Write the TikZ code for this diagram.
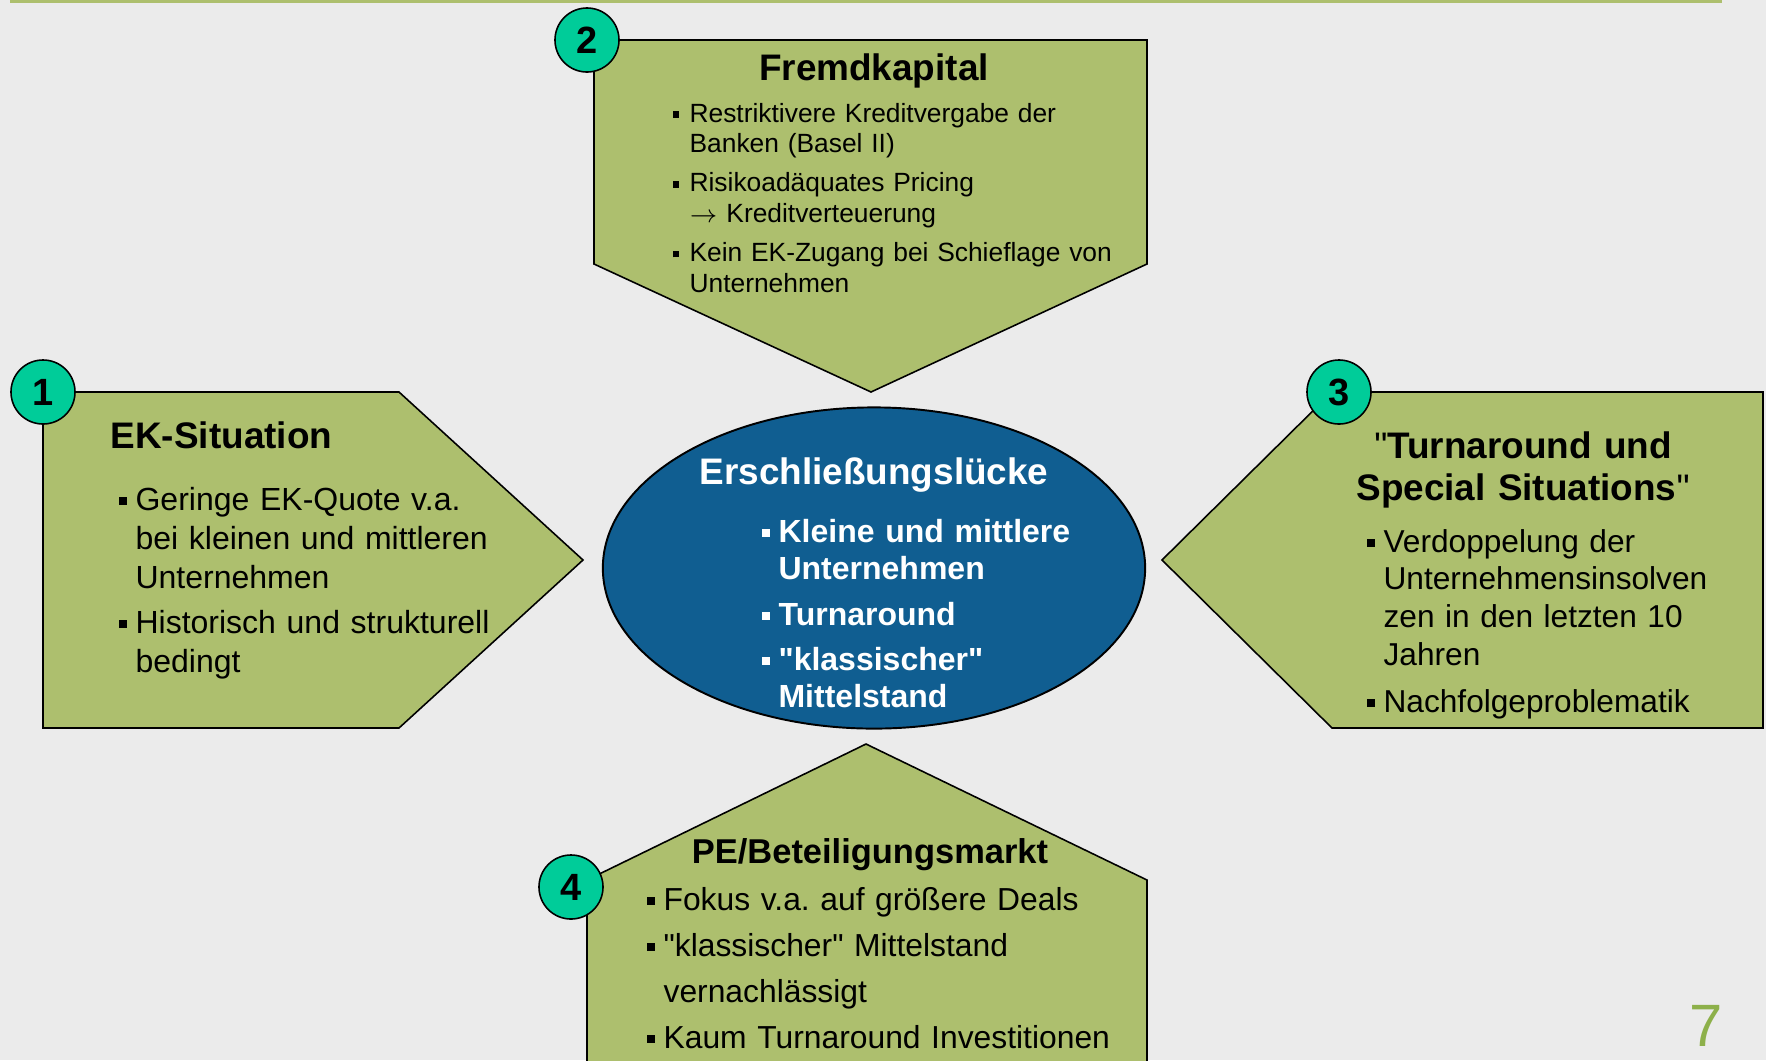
\documentclass[tikz,border=0pt]{standalone}
\usepackage{fontspec}
\setmainfont{Liberation Sans}
\newfontfamily\brut{Liberation Sans} % sans ligatures TeX, pour le guillemet droit
\usetikzlibrary{shapes.geometric}
\frenchspacing

\definecolor{fondgris}{HTML}{EBEBEB}
\definecolor{vertbloc}{HTML}{ADBF6E}
\definecolor{turquoise}{HTML}{00CC99}
\definecolor{bleufonce}{HTML}{105E91}
\definecolor{vertnum}{HTML}{8DB04A}

% puces carrées avec retrait suspendu
\newlength{\retrait}
\setlength{\retrait}{4.8pt}
\newcommand{\carre}{\rule[0.17em]{0.25em}{0.25em}}
\newcommand{\puce}{\hangindent=\retrait\hangafter=1\noindent\makebox[\retrait][l]{\carre}}
\newcommand{\gd}{{\brut"}} % guillemet droit

\begin{document}
\begin{tikzpicture}[x=0.01cm, y=-0.01cm,
    bloc/.style={draw=black, line width=0.45pt, fill=vertbloc},
    numero/.style={draw=black, line width=0.45pt, fill=turquoise, circle, minimum size=0.64cm, inner sep=0pt, font=\fontsize{10.8}{12}\selectfont\bfseries},
    titre/.style={inner sep=0pt, anchor=base, font=\fontsize{10.5}{12}\selectfont\bfseries},
    liste/.style={inner sep=0pt, anchor=base west, align=left, text width=#1}]

        % Fond et cadre
        \useasboundingbox (0,0) rectangle (1766,1060);
        \clip (0,0) rectangle (1766,1060);
        \fill[fondgris] (0,0) rectangle (1766,1060);
        \fill[vertbloc] (10,0) rectangle (1722,2.5);

        % Blocs (flèches vers le centre)
        \draw[bloc] (43,392) -- (399,392) -- (583,560) -- (399,728) -- (43,728) -- cycle;
        \draw[bloc] (594,40) -- (1147,40) -- (1147,264) -- (871,392) -- (594,264) -- cycle;
        \draw[bloc] (1332,392) -- (1763,392) -- (1763,728) -- (1332,728) -- (1162,560) -- cycle;
        \draw[bloc] (587,1080) -- (587,880) -- (866,744) -- (1147,880) -- (1147,1080) -- cycle;

        % Ellipse centrale
        \node[draw=black, line width=0.55pt, fill=bleufonce, ellipse, minimum width=5.42cm, minimum height=3.21cm] (luecke) at (874,568) {};
        \node[titre, text=white] (tl) at (874,484) {Erschließungslücke};
        \node[liste=3.6cm, text=white, font=\fontsize{9.1}{10.8}\selectfont\bfseries, execute at begin node={\setlength{\parskip}{2pt}}] (ll) at (761,542)
            {\puce Kleine und mittlere\newline Unternehmen\par\puce Turnaround\par\puce \gd klassischer\gd\newline Mittelstand\par};

        % Bloc 1
        \node[titre, anchor=base west] (t1) at (110,448) {EK-Situation};
        \node[liste=3.8cm, font=\fontsize{9.1}{11.1}\selectfont, execute at begin node={\setlength{\parskip}{1.7pt}}] (l1) at (118,510)
            {\puce Geringe EK-Quote v.a.\newline bei kleinen und mittleren\newline Unternehmen\par\puce Historisch und strukturell\newline bedingt\par};

        % Bloc 2
        \node[titre] (t2) at (874,80) {Fremdkapital};
        \node[liste=4.8cm, font=\fontsize{7.5}{8.8}\selectfont, execute at begin node={\setlength{\parskip}{2.3pt}}] (l2) at (672,122)
            {\puce Restriktivere Kreditvergabe der\newline Banken (Basel II)\par\puce Risikoadäquates Pricing\newline $\rightarrow$ Kreditverteuerung\par\puce Kein EK-Zugang bei Schieflage von\newline Unternehmen\par};

        % Bloc 3
        \node[titre, text width=4.2cm, align=center, font=\fontsize{10.5}{12}\selectfont\bfseries] (t3) at (1523,458)
            {{\mdseries\gd}Turnaround und\\Special Situations{\mdseries\gd}};
        \node[liste=3.8cm, font=\fontsize{9}{10.8}\selectfont, execute at begin node={\setlength{\parskip}{2.3pt}}] (l3) at (1366,552)
            {\puce Verdoppelung der\newline Unternehmensinsolven\newline zen in den letzten 10\newline Jahren\par\puce Nachfolgeproblematik\par};

        % Bloc 4
        \node[titre, font=\fontsize{9.8}{12}\selectfont\bfseries] (t4) at (870,863) {PE/Beteiligungsmarkt};
        \node[liste=4.9cm, font=\fontsize{9.05}{13.1}\selectfont] (l4) at (646,910)
            {\puce Fokus v.a. auf größere Deals\par\puce \gd klassischer\gd{} Mittelstand\newline vernachlässigt\par\puce Kaum Turnaround Investitionen\par};

        % Numéros
        \node[numero] (n1) at (43,392) {1};
        \node[numero] (n2) at (587,40) {2};
        \node[numero] (n3) at (1339,392) {3};
        \node[numero] (n4) at (571,887) {4};

        % Numéro de page
        \node[anchor=base west, inner sep=0pt, text=vertnum, font=\fontsize{17}{20}\selectfont] (page) at (1689,1046) {7};
    \end{tikzpicture}
\end{document}
